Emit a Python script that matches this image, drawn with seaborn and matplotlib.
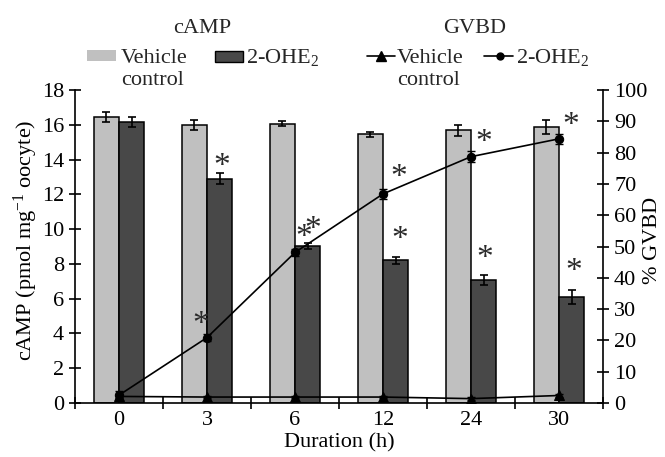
import numpy as np
import pandas as pd
import matplotlib
matplotlib.use("Agg")
import matplotlib.pyplot as plt
import matplotlib.transforms as mtrans
import seaborn as sns
from matplotlib.patches import Rectangle
from matplotlib.lines import Line2D

# ---- data ----
durations = ["0", "3", "6", "12", "24", "30"]
series = ["Vehicle control", "2-OHE2"]
camp_vehicle = [16.45, 16.0, 16.07, 15.45, 15.68, 15.88]
camp_vehicle_err = [0.3, 0.3, 0.15, 0.15, 0.3, 0.4]
camp_ohe2 = [16.15, 12.9, 9.03, 8.2, 7.06, 6.1]
camp_ohe2_err = [0.3, 0.3, 0.15, 0.2, 0.3, 0.4]
gvbd_vehicle = [2.1, 1.9, 1.9, 1.9, 1.4, 2.4]
gvbd_vehicle_err = [0.5, 0.4, 0.4, 0.4, 0.4, 0.5]
gvbd_ohe2 = [2.5, 20.9, 48.1, 66.8, 78.7, 84.4]
gvbd_ohe2_err = [1.2, 1.0, 1.0, 1.5, 1.8, 1.5]
# significance marks: (duration index, cAMP level of the "*")
camp_marks = [(1, 13.95), (2, 10.28), (3, 9.76), (4, 8.66), (5, 7.87)]
# significance marks: (duration index, %GVBD level of the "*")
gvbd_marks = [(1, 26.9), (2, 54.6), (3, 73.9), (4, 85.1), (5, 90.4)]

LIGHT = "#c0c0c0"
DARK = "#484848"
FS = 16

sns.set_theme(style="ticks")
plt.rcParams['font.family'] = ['Liberation Serif', 'DejaVu Serif']
plt.rcParams['mathtext.fontset'] = 'custom'
plt.rcParams['mathtext.rm'] = 'Liberation Serif'
plt.rcParams['mathtext.it'] = 'Liberation Serif:italic'
plt.rcParams['axes.linewidth'] = 1.2

W, H = 665, 457
fig = plt.figure(figsize=(W / 100, H / 100), dpi=100)
ax = fig.add_axes([75 / W, 54 / H, 528 / W, 313 / H])

df = pd.DataFrame({
    "Duration": durations * 2,
    "cAMP": camp_vehicle + camp_ohe2,
    "Treatment": [series[0]] * len(durations) + [series[1]] * len(durations),
})
sns.barplot(data=df, x="Duration", y="cAMP", hue="Treatment", order=durations,
            hue_order=series, palette=[LIGHT, DARK], saturation=1, width=0.57,
            gap=0, edgecolor="black", linewidth=1.1, errorbar=None,
            legend=False, ax=ax)

# error bars on bars
bars = sorted(ax.patches, key=lambda p: p.get_x())
bx = [p.get_x() + p.get_width() / 2 for p in bars]
bh = [p.get_height() for p in bars]
berr = [e for pair in zip(camp_vehicle_err, camp_ohe2_err) for e in pair]
ax.errorbar(bx, bh, yerr=berr, fmt="none", ecolor="black", elinewidth=1.2,
            capsize=3, capthick=1.2, zorder=5)

ax.set_ylim(0, 18)
ax.set_yticks(np.arange(0, 19, 2))
ax.set_xlim(-0.5, len(durations) - 0.5)
xpos = np.arange(len(durations))
ax.set_xticks(xpos)
ax.set_xticklabels(durations)
ax.set_xticks(np.arange(-0.5, len(durations), 1), minor=True)
ax.tick_params(axis="x", which="major", length=0, labelsize=FS, pad=6, colors="black")
ax.tick_params(axis="x", which="minor", length=9, width=1.2, direction="inout", colors="black")
ax.tick_params(axis="y", length=9, width=1.2, direction="inout", labelsize=FS, colors="black")
ax.set_xlabel("Duration (h)", fontsize=FS, color="black", labelpad=2)
ax.set_ylabel("cAMP (pmol mg$^{-1}$ oocyte)", fontsize=FS, color="black")
ax.yaxis.set_label_coords(-0.066, 0.52)
ax.spines["top"].set_visible(False)
ax.spines["right"].set_visible(False)
for s in ax.spines.values():
    s.set_color("black")

# glyph of "*" sits high in its box: shift down so the star is centred on y
star_ax = mtrans.offset_copy(ax.transData, fig=fig, x=0, y=-6, units="dots")

# asterisks above treated bars
dark_bars = bars[1::2]
bar_dx = {1: 0.03, 2: 0.055, 3: 0.045, 4: 0.01, 5: 0.02}
for i, yv in camp_marks:
    p = dark_bars[i]
    cx = p.get_x() + p.get_width() / 2 + bar_dx[i]
    ax.text(cx, yv, "*", ha="center", va="center", fontsize=24, color="#2a2a2a",
            transform=star_ax, zorder=6)

# ---- GVBD lines on right axis ----
ax2 = ax.twinx()
sns.lineplot(x=xpos, y=gvbd_vehicle, marker="^", markersize=7, color="black",
             linewidth=1.2, markeredgecolor="black", ax=ax2, sort=False)
sns.lineplot(x=xpos, y=gvbd_ohe2, marker="o", markersize=6, color="black",
             linewidth=1.2, markeredgecolor="black", ax=ax2, sort=False)
ax2.errorbar(xpos, gvbd_vehicle, yerr=gvbd_vehicle_err, fmt="none", ecolor="black",
             elinewidth=1.0, capsize=3, capthick=1.0)
ax2.errorbar(xpos, gvbd_ohe2, yerr=gvbd_ohe2_err, fmt="none", ecolor="black",
             elinewidth=1.0, capsize=3, capthick=1.0)
ax2.set_ylim(0, 100)
ax2.set_yticks(np.arange(0, 101, 10))
ax2.set_xlim(-0.5, len(durations) - 0.5)
ax2.tick_params(axis="y", length=9, width=1.2, direction="inout", labelsize=FS, colors="black")
ax2.set_ylabel("% GVBD", fontsize=FS, color="black")
ax2.yaxis.set_label_coords(1.076, 0.52)
ax2.spines["top"].set_visible(False)
ax2.spines["left"].set_visible(False)
ax2.spines["bottom"].set_visible(False)
ax2.spines["right"].set_color("black")

star_ax2 = mtrans.offset_copy(ax2.transData, fig=fig, x=0, y=-6, units="dots")
line_dx = {1: -0.076, 2: 0.094, 3: 0.174, 4: 0.14, 5: 0.128}
for i, yv in gvbd_marks:
    ax2.text(xpos[i] + line_dx[i], yv, "*", ha="center", va="center", fontsize=24,
             color="#2a2a2a", transform=star_ax2, zorder=6)

# ---- manual legend ----
def fx(x):
    return x / W

def fy(y):
    return 1 - y / H

fig.text(fx(202), fy(33), "cAMP", ha="center", va="baseline", fontsize=FS)
fig.text(fx(475), fy(33), "GVBD", ha="center", va="baseline", fontsize=FS)
fig.patches.append(Rectangle((fx(87), fy(61)), 29 / W, 11 / H, transform=fig.transFigure,
                             facecolor=LIGHT, edgecolor="none"))
fig.patches.append(Rectangle((fx(215), fy(62)), 28 / W, 11 / H, transform=fig.transFigure,
                             facecolor=DARK, edgecolor="black", linewidth=1.0))
fig.text(fx(121), fy(63), "Vehicle", ha="left", va="baseline", fontsize=FS)
fig.text(fx(121), fy(85), "control", ha="left", va="baseline", fontsize=FS)
fig.text(fx(246), fy(63), "2-OHE$_2$", ha="left", va="baseline", fontsize=FS)
fig.lines.append(Line2D([fx(367), fx(395)], [fy(56), fy(56)], transform=fig.transFigure,
                        color="black", linewidth=1.2))
fig.lines.append(Line2D([fx(381)], [fy(56)], transform=fig.transFigure, color="black",
                        marker="^", markersize=7, linestyle="none"))
fig.text(fx(397), fy(63), "Vehicle", ha="left", va="baseline", fontsize=FS)
fig.text(fx(397), fy(85), "control", ha="left", va="baseline", fontsize=FS)
fig.lines.append(Line2D([fx(484), fx(513)], [fy(56), fy(56)], transform=fig.transFigure,
                        color="black", linewidth=1.2))
fig.lines.append(Line2D([fx(500)], [fy(56)], transform=fig.transFigure, color="black",
                        marker="o", markersize=5, linestyle="none"))
fig.text(fx(516), fy(63), "2-OHE$_2$", ha="left", va="baseline", fontsize=FS)

fig.savefig("out.png", dpi=100)
